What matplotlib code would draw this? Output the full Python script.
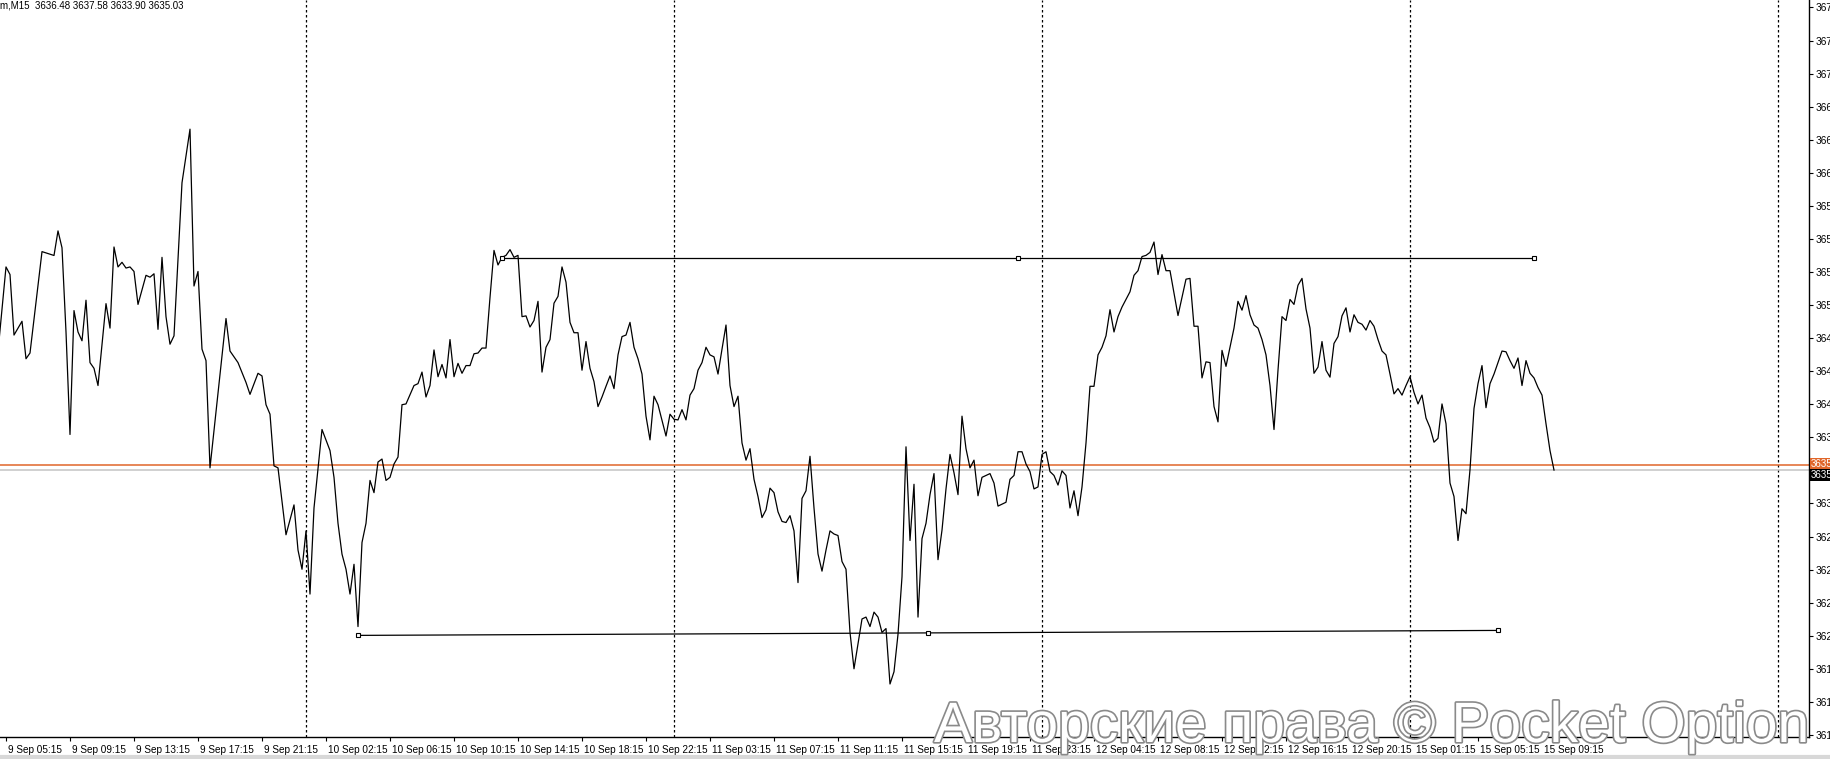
import matplotlib
matplotlib.use("Agg")
import matplotlib.pyplot as plt
import matplotlib.transforms as mtransforms
import matplotlib.patheffects as pe

# ---------------- data ----------------
bar_index = [
    -2, 0, 1, 2, 4, 5, 6, 9, 12, 13, 14, 15, 16, 17, 18, 19, 20, 21, 22, 23,
    25, 26, 27, 28, 29, 30, 31, 32, 33, 35, 36, 37, 38, 39, 40, 41, 42, 44, 46, 47,
    48, 49, 50, 51, 55, 56, 58, 60, 61, 63, 64, 65, 66, 67, 68, 70, 72, 73, 74, 75,
    76, 77, 79, 81, 82, 83, 84, 85, 86, 87, 88, 89, 90, 91, 92, 93, 94, 95, 96, 97,
    98, 99, 100, 102, 103, 104, 105, 106, 107, 108, 109, 110, 111, 112, 113, 114, 115, 116, 117, 118,
    119, 120, 121, 122, 123, 124, 125, 126, 127, 128, 129, 130, 131, 132, 133, 134, 135, 136, 137, 138,
    139, 140, 141, 142, 143, 144, 145, 146, 147, 148, 149, 150, 151, 152, 153, 154, 155, 156, 157, 158,
    159, 160, 161, 162, 163, 165, 166, 167, 168, 169, 170, 171, 172, 173, 174, 175, 176, 177, 178, 179,
    180, 181, 182, 183, 184, 185, 186, 187, 188, 189, 190, 191, 192, 193, 194, 195, 196, 197, 198, 199,
    200, 201, 202, 203, 204, 205, 206, 207, 208, 209, 210, 211, 212, 214, 215, 216, 217, 218, 219, 220,
    221, 222, 223, 224, 225, 226, 227, 228, 229, 230, 231, 232, 233, 234, 235, 236, 237, 238, 239, 240,
    241, 242, 243, 244, 246, 247, 248, 250, 251, 252, 253, 254, 255, 256, 257, 258, 259, 260, 261, 262,
    263, 264, 265, 266, 267, 268, 269, 270, 271, 272, 273, 274, 275, 276, 277, 278, 279, 280, 281, 282,
    283, 284, 285, 286, 287, 288, 289, 290, 291, 293, 295, 296, 297, 298, 299, 300, 301, 302, 303, 304,
    305, 306, 307, 308, 309, 310, 311, 312, 313, 314, 315, 316, 317, 318, 319, 320, 321, 322, 323, 324,
    325, 326, 327, 328, 329, 330, 331, 332, 333, 334, 335, 336, 337, 338, 339, 340, 341, 342, 343, 344,
    345, 346, 347, 348, 349, 350, 351, 352, 353, 354, 355, 356, 357, 358, 359, 360, 361, 362, 363, 364,
    365, 366, 367, 368, 369, 370, 371, 372, 373, 374, 375, 376, 377, 378, 379, 380, 381, 382, 383, 384,
    385, 386, 387,
]
close_price = [
    3645.80, 3653.46, 3652.77, 3647.28, 3648.53, 3645.13, 3645.65, 3654.85, 3654.50, 3656.73,
    3655.20, 3647.56, 3638.26, 3649.50, 3647.56, 3646.76, 3650.44, 3644.78, 3644.26, 3642.70,
    3650.13, 3647.91, 3655.27, 3653.46, 3653.88, 3653.36, 3653.46, 3653.05, 3650.06, 3652.70,
    3652.53, 3652.84, 3647.80, 3654.33, 3648.95, 3646.45, 3647.21, 3661.10, 3665.96, 3651.73,
    3653.05, 3646.00, 3644.96, 3635.23, 3648.78, 3645.83, 3644.78, 3642.98, 3641.90, 3643.81,
    3643.57, 3640.96, 3640.10, 3635.41, 3635.23, 3629.16, 3631.87, 3627.77, 3626.03, 3629.50,
    3623.78, 3631.59, 3638.71, 3636.80, 3634.37, 3630.20, 3627.40, 3626.03, 3623.78, 3626.48,
    3620.83, 3628.46, 3630.20, 3634.09, 3632.98, 3635.76, 3636.03, 3634.09, 3634.37, 3635.58,
    3636.21, 3640.96, 3641.03, 3642.70, 3642.87, 3643.92, 3641.66, 3642.70, 3645.93, 3643.50,
    3644.61, 3643.39, 3646.87, 3643.50, 3644.71, 3643.81, 3644.51, 3644.51, 3645.58, 3645.65,
    3646.10, 3646.10, 3650.69, 3654.96, 3653.64, 3654.33, 3654.51, 3655.03, 3654.33, 3654.51,
    3648.95, 3649.02, 3648.01, 3648.60, 3650.34, 3643.92, 3646.17, 3646.87, 3650.17, 3650.79,
    3653.46, 3652.08, 3648.43, 3647.49, 3647.49, 3644.09, 3646.69, 3644.26, 3643.05, 3640.79,
    3641.66, 3642.63, 3643.57, 3642.42, 3645.48, 3647.14, 3647.28, 3648.43, 3646.17, 3645.13,
    3643.74, 3639.92, 3637.77, 3641.73, 3640.96, 3638.12, 3640.10, 3639.64, 3639.58, 3640.51,
    3639.58, 3641.83, 3642.42, 3644.09, 3644.78, 3646.17, 3645.48, 3645.30, 3643.74, 3646.00,
    3648.19, 3642.70, 3640.79, 3641.73, 3637.49, 3635.93, 3636.97, 3634.19, 3632.63, 3630.72,
    3631.42, 3633.39, 3632.98, 3631.24, 3630.37, 3630.27, 3630.89, 3629.51, 3624.82, 3632.46,
    3633.15, 3636.28, 3631.59, 3627.42, 3625.86, 3627.77, 3629.51, 3629.23, 3629.09, 3626.73,
    3626.03, 3620.30, 3617.00, 3621.52, 3621.69, 3620.83, 3622.14, 3621.69, 3620.30, 3620.65,
    3615.62, 3616.73, 3620.13, 3625.34, 3637.14, 3628.64, 3633.74, 3621.69, 3628.81, 3630.20,
    3632.80, 3634.71, 3626.90, 3629.58, 3633.32, 3636.45, 3634.78, 3632.80, 3639.92, 3636.97,
    3635.23, 3635.93, 3632.70, 3634.37, 3634.71, 3633.85, 3631.76, 3632.11, 3634.19, 3634.54,
    3636.69, 3636.69, 3635.58, 3634.89, 3633.32, 3633.50, 3636.45, 3636.69, 3634.89, 3634.54,
    3633.67, 3634.96, 3634.54, 3631.59, 3633.15, 3630.89, 3633.50, 3637.49, 3642.63, 3642.63,
    3645.48, 3646.17, 3647.21, 3649.58, 3647.56, 3648.95, 3649.82, 3650.51, 3651.21, 3652.70,
    3653.12, 3654.40, 3654.51, 3654.78, 3655.72, 3652.77, 3654.58, 3653.12, 3653.12, 3649.05,
    3652.35, 3652.42, 3648.08, 3648.08, 3643.39, 3644.85, 3644.78, 3640.79, 3639.40, 3645.89,
    3644.44, 3646.17, 3647.91, 3650.34, 3649.54, 3650.86, 3649.12, 3648.19, 3647.91, 3646.87,
    3645.48, 3642.70, 3638.71, 3644.09, 3648.95, 3648.60, 3650.51, 3650.06, 3651.80, 3652.42,
    3649.65, 3647.91, 3643.81, 3644.37, 3646.69, 3644.09, 3643.46, 3646.52, 3647.14, 3649.02,
    3649.75, 3647.56, 3649.12, 3648.43, 3648.26, 3647.73, 3648.60, 3648.08, 3646.87, 3645.83,
    3645.48, 3643.74, 3641.94, 3642.42, 3641.83, 3642.70, 3643.50, 3642.08, 3641.03, 3641.83,
    3639.75, 3638.88, 3637.56, 3637.91, 3641.03, 3639.23, 3633.85, 3632.63, 3628.64, 3631.52,
    3631.07, 3635.06, 3640.62, 3642.87, 3644.51, 3640.69, 3642.87, 3643.74, 3644.78, 3645.83,
    3645.76, 3644.96, 3644.26, 3645.20, 3642.70, 3644.96, 3643.81, 3643.39, 3642.52, 3641.83,
    3639.23, 3636.80, 3635.03,
]

time_labels = [
    "9 Sep 05:15", "9 Sep 09:15", "9 Sep 13:15", "9 Sep 17:15", "9 Sep 21:15",
    "10 Sep 02:15", "10 Sep 06:15", "10 Sep 10:15", "10 Sep 14:15", "10 Sep 18:15",
    "10 Sep 22:15", "11 Sep 03:15", "11 Sep 07:15", "11 Sep 11:15", "11 Sep 15:15",
    "11 Sep 19:15", "11 Sep 23:15", "12 Sep 04:15", "12 Sep 08:15", "12 Sep 12:15",
    "12 Sep 16:15", "12 Sep 20:15", "15 Sep 01:15", "15 Sep 05:15", "15 Sep 09:15",
]
label_step = 16                       # bars between time labels
day_separators = [75, 167, 259, 351, 443]

price_ticks = [3677, 3674, 3671, 3668, 3665, 3662, 3659, 3656, 3653, 3650, 3647, 3644,
               3641, 3638, 3635, 3632, 3629, 3626, 3623, 3620, 3617, 3614, 3611]

resistance_idx = [124, 253, 382]
resistance_val = [3654.30, 3654.30, 3654.30]
support_idx = [88, 230.5, 373]
support_val = [3620.03, 3620.25, 3620.48]

ask_price = 3635.51
bid_price = 3635.03
header_text = "m,M15  3636.48 3637.58 3633.90 3635.03"
watermark = "Авторские права © Pocket Option"

# ---------------- figure ----------------
FONT = "Liberation Sans"
W, H = 1831, 759
fig = plt.figure(figsize=(W / 100, H / 100), dpi=100)
ax = fig.add_axes([0, 22 / H, 1809 / W, 1 - 22 / H])

ax.set_xlim(-1.5, 450.75)
ax.set_ylim(3610.81, 3677.68)

ax.plot(bar_index, close_price, color="black", lw=0.9, zorder=3)

# day separators
for d in day_separators:
    ax.axvline(d, color="black", lw=0.9, linestyle=(0, (2, 2)), zorder=1)

# bid / ask lines
ax.axhline(ask_price, color="#e0662a", lw=1.1, zorder=2)
ax.axhline(bid_price, color="#c4c4c4", lw=1.1, zorder=2)

# trendlines
for xs, ys in ((resistance_idx, resistance_val), (support_idx, support_val)):
    ax.plot([xs[0], xs[-1]], [ys[0], ys[-1]], color="black", lw=0.9, zorder=4)
    ax.plot(xs, ys, linestyle="none", marker="s", markersize=3.5,
            markerfacecolor="white", markeredgecolor="black", markeredgewidth=0.8, zorder=5)

# axes styling
for s in ("top", "left"):
    ax.spines[s].set_visible(False)
ax.spines["right"].set_linewidth(1.0)
ax.spines["bottom"].set_linewidth(1.0)

ax.set_xticks([i * label_step for i in range(len(time_labels))])
ax.set_xticklabels(time_labels, ha="left", fontsize=7.2, family=FONT)
ax.tick_params(axis="x", direction="out", length=3, width=0.8, pad=3)

ax.yaxis.tick_right()
ax.set_yticks(price_ticks)
ax.set_yticklabels([f"{t:.2f}" for t in price_ticks], fontsize=7.3, family=FONT)
ax.tick_params(axis="y", direction="out", length=3, width=0.8, pad=2)

# move x tick labels slightly to the right of their ticks
offset = mtransforms.ScaledTranslation(2 / 100, 0, fig.dpi_scale_trans)
for lab in ax.get_xticklabels():
    lab.set_transform(lab.get_transform() + offset)

# price boxes on the right scale
trans = mtransforms.blended_transform_factory(ax.transAxes, ax.transData)
ax.text(1.001, ask_price + 0.05, f"{ask_price:.2f}", transform=trans, fontsize=7,
        family=FONT, color="white", va="center", ha="left", clip_on=False, zorder=10,
        bbox=dict(boxstyle="square,pad=0.12", facecolor="#e0662a", edgecolor="none"))
ax.text(1.001, bid_price - 0.45, f"{bid_price:.2f}", transform=trans, fontsize=7,
        family=FONT, color="white", va="center", ha="left", clip_on=False, zorder=10,
        bbox=dict(boxstyle="square,pad=0.12", facecolor="black", edgecolor="none"))

# header
fig.text(0 / W, 1 - 6 / H, header_text, fontsize=7, family=FONT,
         ha="left", va="center", color="black")

# watermark
fig.text(934 / W, (H - 742) / H, watermark, fontsize=41, family=FONT,
         color="white", ha="left", va="baseline", zorder=20,
         path_effects=[pe.withStroke(linewidth=2.4, foreground="#8a8a8a")])

# window bottom border
fig.add_artist(plt.Line2D([0, 1], [2 / H, 2 / H], color="#d8d8d8", lw=3,
                          transform=fig.transFigure))

fig.savefig("out.png", dpi=100, facecolor="white")
